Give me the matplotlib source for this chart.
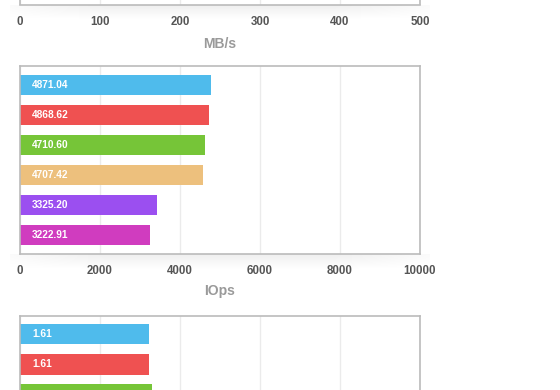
import numpy as np
import matplotlib
matplotlib.use('Agg')
import matplotlib.pyplot as plt

plt.rcParams['font.family'] = ['Liberation Sans', 'DejaVu Sans']

colors = ['#4fbbec', '#ef5151', '#76c538', '#edc07d', '#9b4ff0', '#d03cbf']

# panel 1 (MB/s) - its bars sit above the visible area
mbs_vals = []
mbs_labels = []
mbs_ticks = [0, 100, 200, 300, 400, 500]

# panel 2 (IOps): bar lengths as drawn, and the printed labels
iops_vals = [4774, 4724, 4624, 4574, 3421, 3246]
iops_labels = ['4871.04', '4868.62', '4710.60', '4707.42', '3325.20', '3222.91']
iops_ticks = [0, 2000, 4000, 6000, 8000, 10000]

# panel 3 - only the top of it is visible
lat_vals = [1.61, 1.61, 1.65]
lat_labels = ['1.61', '1.61', '']
lat_ticks = [0, 1, 2, 3, 4, 5]

W, H = 560, 390
fig = plt.figure(figsize=(W / 100, H / 100), dpi=100)


def shadow(left, top, width):
    # faint box shadow under each chart frame
    sh = fig.add_axes([(left - 10) / W, (H - top - 16) / H, (width + 20) / W, 16 / H], zorder=0)
    yy = np.linspace(1, 0, 16)[:, None]
    xx = np.linspace(-1, 1, 200)[None, :]
    alpha = 0.07 * yy * np.clip(1.3 - np.abs(xx) ** 2, 0, 1)
    img = np.zeros((16, 200, 4))
    img[..., 3] = alpha
    sh.imshow(img, aspect='auto', extent=[0, 1, 0, 1])
    sh.axis('off')


def panel(left, top, width, vals, labels, ticks, xlabel, labelpad=7, show_ticks=True):
    shadow(left, top + 188, width)
    ax = fig.add_axes([left / W, (H - top - 188) / H, width / W, 188 / H], zorder=1)
    pos = np.arange(len(vals))
    if len(vals):
        ax.barh(pos, vals, height=0.667, color=colors[:len(vals)], zorder=2)
    for i, t in enumerate(labels):
        ax.annotate(t, xy=(0, i), xytext=(8.6, 0), textcoords='offset points',
                    ha='left', va='center', color='white', fontsize=7.3, fontweight='bold', zorder=3)
    ax.set_xlim(ticks[0], ticks[-1])
    ax.set_ylim(5.633, -0.633)
    ax.set_xticks(ticks)
    ax.set_yticks([])
    ax.grid(axis='x', color='#ebebeb', linewidth=1, zorder=0)
    ax.tick_params(axis='x', length=0, pad=8, labelsize=8.3, labelcolor='#555555',
                   labelbottom=show_ticks)
    for lbl in ax.get_xticklabels():
        lbl.set_fontweight('bold')
    for s in ax.spines.values():
        s.set_color('#bbbbbb')
        s.set_linewidth(1.2)
    if xlabel:
        ax.set_xlabel(xlabel, fontsize=10, fontweight='bold', color='#9a9a9a', labelpad=labelpad)
    return ax


panel(20, 4.5 - 188, 400, mbs_vals, mbs_labels, mbs_ticks, 'MB/s', labelpad=7)
panel(20, 66, 400, iops_vals, iops_labels, iops_ticks, 'IOps', labelpad=5)
# bottom panel runs off the canvas, so its tick labels would not show anyway
panel(20, 315.5, 400, lat_vals, lat_labels, lat_ticks, '', show_ticks=False)

fig.savefig('out.png', dpi=100)
